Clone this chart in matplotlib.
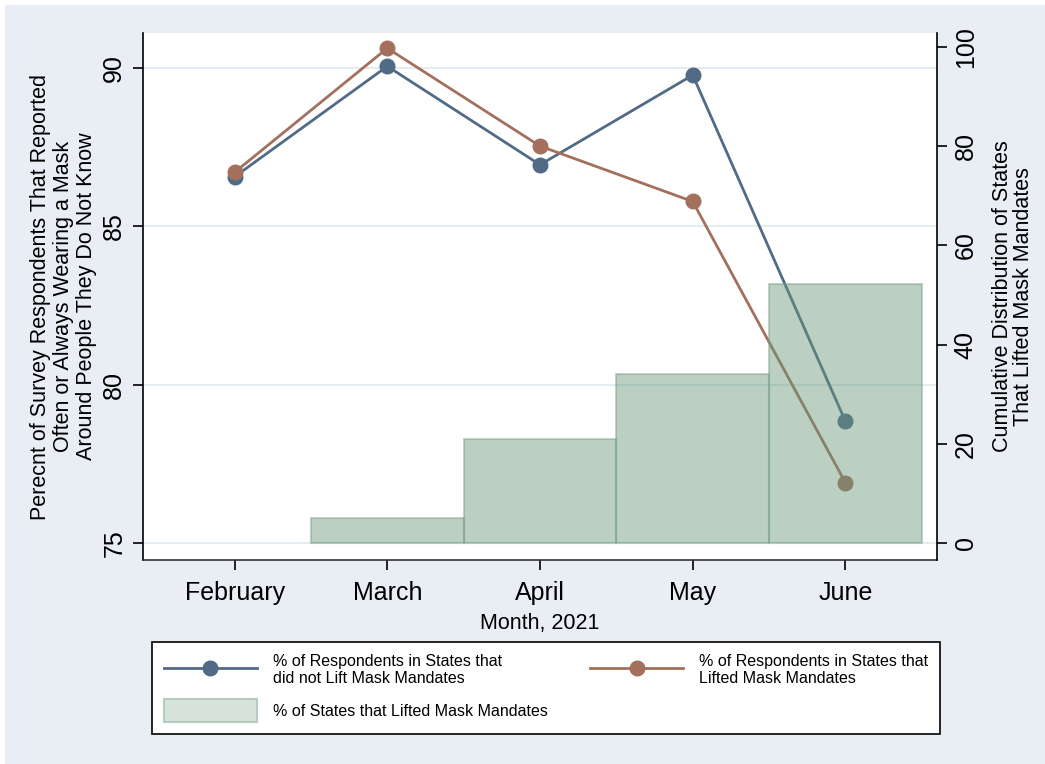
import numpy as np
import matplotlib.pyplot as plt
from matplotlib.lines import Line2D
from matplotlib.patches import Patch, Rectangle

plt.rcParams['font.family'] = ['Liberation Sans', 'DejaVu Sans']

months = ["February", "March", "April", "May", "June"]
not_lifted = [86.56, 90.05, 86.94, 89.77, 78.84]
lifted = [86.70, 90.62, 87.53, 85.78, 76.90]
states_lifted = [0, 5, 21, 34, 52.3]

blue = '#516B86'
red = '#A3705E'
bar_face = (0.41, 0.59, 0.48, 0.45)
bar_edge = (0.47, 0.63, 0.53, 0.45)

fig = plt.figure(figsize=(10.45, 7.64), dpi=100)
fig.patches.append(Rectangle((5 / 1045, 0), 1, 1 - 5 / 764, transform=fig.transFigure,
                             facecolor='#E8EEF3', edgecolor='none', zorder=-10))

ax = fig.add_axes([0.1368, 0.267, 0.7599, 0.6898])
ax.set_facecolor('white')
x = np.arange(len(months))

# ==========================
# lines on left axis
# ==========================
ax.plot(x, not_lifted, color=blue, lw=2.0, marker='o', ms=10.5, zorder=3)
ax.plot(x, lifted, color=red, lw=2.0, marker='o', ms=10.5, zorder=3)

ax.set_xlim(-0.6, 4.6)
ax.set_ylim(74.46, 91.1)
ax.set_yticks([75, 80, 85, 90])
ax.yaxis.grid(True, color='#E4ECF1', lw=1.5)
ax.set_axisbelow(True)
ax.set_xticks(x)
ax.set_xticklabels(months, fontsize=18)
ax.tick_params(axis='y', labelsize=18, labelrotation=90, length=7, width=1.2, pad=5)
ax.tick_params(axis='x', length=7, width=1.2, pad=8)
for lab in ax.get_yticklabels():
    lab.set_va('center')
ax.set_xlabel("Month, 2021", fontsize=15.5, labelpad=6)
ax.set_ylabel("Perecnt of Survey Respondents That Reported\nOften or Always Wearing a Mask\n"
              "Around People They Do Not Know", fontsize=15.5, labelpad=4, linespacing=1.12)
for s in ['top', 'right']:
    ax.spines[s].set_visible(False)
ax.spines['left'].set_linewidth(1.2)
ax.spines['bottom'].set_linewidth(1.2)
ax.spines['bottom'].set_color('#333333')

# ==========================
# bars on right axis (drawn over lines, semi transparent)
# ==========================
ax2 = ax.twinx()
has_bar = [v > 0 for v in states_lifted]
ax2.bar(x[has_bar], np.array(states_lifted)[has_bar], width=1.0,
        color=bar_face, edgecolor=bar_edge, linewidth=1.5)
ax2.set_ylim(-3.43, 102.8)
ax2.set_yticks([0, 20, 40, 60, 80, 100])
ax2.tick_params(axis='y', labelsize=18, labelrotation=90, length=7, width=1.2, pad=5)
for lab in ax2.get_yticklabels():
    lab.set_va('center')
ax2.set_ylabel("Cumulative Distribution of States\nThat Lifted Mask Mandates",
               fontsize=15.5, labelpad=10, linespacing=1.0)
for s in ['top', 'left', 'bottom']:
    ax2.spines[s].set_visible(False)
ax2.spines['right'].set_linewidth(1.2)

# ==========================
# legend
# ==========================
handles = [
    Line2D([], [], color=blue, lw=2.0, marker='o', ms=10.5),
    Patch(facecolor='#D5E3DA', edgecolor='#B5CDBE', linewidth=1.5),
    Line2D([], [], color=red, lw=2.0, marker='o', ms=10.5),
]
labels = [
    "% of Respondents in States that\ndid not Lift Mask Mandates",
    "% of States that Lifted Mask Mandates",
    "% of Respondents in States that\nLifted Mask Mandates",
]
leg = fig.legend(handles, labels, ncol=2, loc='upper left',
                 bbox_to_anchor=(0.1455, 0.0406, 0.754, 0.1191), mode='expand',
                 borderaxespad=0, fontsize=11.5, handlelength=5.8, handleheight=1.8,
                 handletextpad=1.0, borderpad=0.75, labelspacing=0.85, frameon=True,
                 fancybox=False, edgecolor='black', framealpha=1)
leg.get_frame().set_linewidth(1.2)
for t in leg.get_texts():
    t.set_linespacing(1.15)

fig.savefig('out.png', dpi=100)
